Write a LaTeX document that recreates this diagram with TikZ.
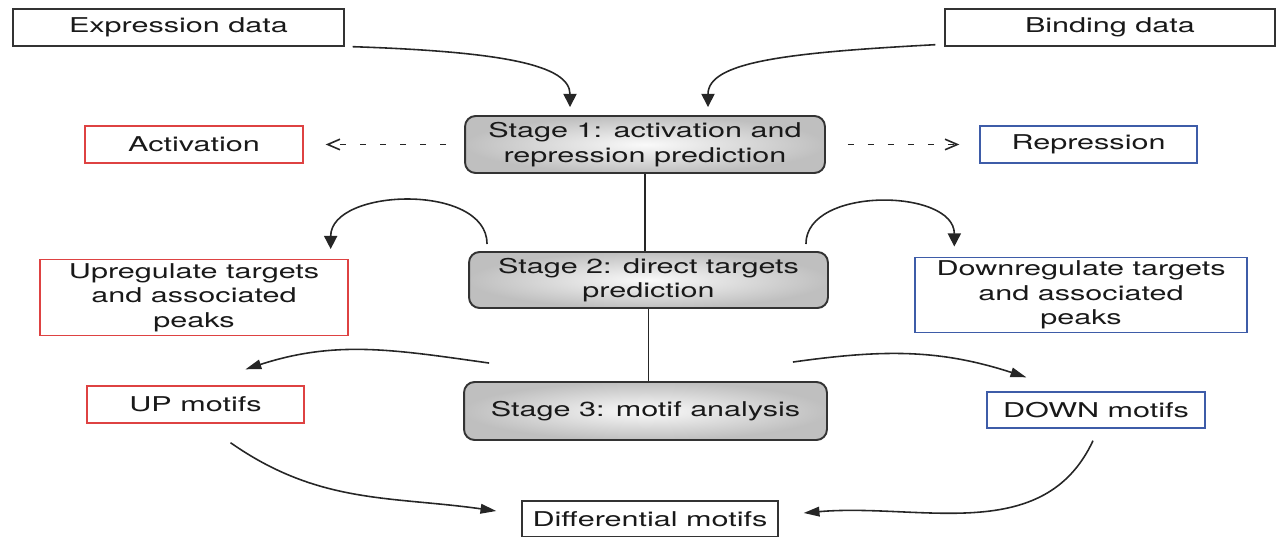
\documentclass[tikz,border=0pt]{standalone}
\usepackage{fontspec}
\newfontfamily\figfont[FakeStretch=1.5]{TeX Gyre Heros}
\usepackage{xcolor}
\usepackage{tikz}
\usetikzlibrary{arrows.meta, positioning, calc}
\definecolor{upred}{RGB}{222,66,66}
\definecolor{downblue}{RGB}{62,92,168}
\tikzset{
  %% Plain outlined box
  lbox/.style={
    rectangle, draw=#1, fill=white,
    text centered, align=center,
    inner sep=2pt, minimum height=0.74cm,
    line width=0.8pt
  },
  lbox/.default=black!80,
  %% Shaded stage box
  stagebox/.style={
    rectangle, rounded corners=6pt,
    draw=black!80, inner color=gray!4, outer color=gray!50,
    text centered, align=center,
    minimum width=7.2cm, minimum height=1.14cm,
    inner sep=2pt, line width=1.1pt
  },
  %% Arrows
  arr/.style={-{Triangle[length=7.5pt,width=7.5pt]},
              draw=black!85, line width=0.9pt},
  arrh/.style={-{Triangle[length=9pt,width=5.5pt]},
               draw=black!85, line width=0.9pt},
  darr/.style={-{Straight Barb[length=7pt,width=6pt]},
               dash pattern=on 3.6pt off 7.8pt,
               draw=black!85, line width=0.9pt},
  link/.style={draw=black!85, line width=0.9pt},
}

\begin{document}
\begin{tikzpicture}[x=0.02cm, y=0.02cm,
                    every node/.style={font=\figfont\fontsize{11.6pt}{14pt}\selectfont,
                                       text=black!90}]

  \useasboundingbox (0,0) rectangle (1278,537);

  \node[lbox, minimum width=6.62cm] (expr) at (178.5,509.5) {Expression data};
  \node[lbox, minimum width=6.6cm] (bind) at (1110,509.5) {Binding data};

  \node[stagebox] (st1) at (645,392.5)
       {Stage 1: activation and\\repression prediction};
  \node[lbox=upred, minimum width=4.36cm] (act) at (194,392.5) {Activation};
  \node[lbox=downblue, minimum width=4.34cm] (rep) at (1088.5,392.5) {Repression};

  \node[stagebox, minimum width=7.18cm, minimum height=1.12cm] (st2) at (648.5,257)
       {Stage 2: direct targets\\prediction};
  \node[lbox=upred, minimum width=6.16cm, minimum height=1.42cm] (up) at (194,239.5)
       {Upregulate targets\\and associated\\peaks};
  \node[lbox=downblue, minimum width=6.64cm, minimum height=1.4cm] (down) at (1081,242)
       {Downregulate targets\\and associated\\peaks};

  \node[stagebox, minimum width=7.26cm, minimum height=1.16cm] (st3) at (645.5,126)
       {Stage 3: motif analysis};
  \node[lbox=upred, minimum width=4.34cm] (upm) at (195.5,132.5) {UP motifs};
  \node[lbox=downblue, minimum width=4.36cm, minimum height=0.72cm] (downm) at (1096,127)
       {DOWN motifs};

  \node[lbox, minimum width=5.12cm, minimum height=0.72cm] (diff) at (650,18)
       {Differential motifs};

  %% Inputs
  \draw[arr] ([shift={(8,0)}]expr.south east)
             .. controls +(150,-5) and +(0,42) .. ([shift={(-75,8)}]st1.north);
  \draw[arr] ([shift={(-9,2)}]bind.south west)
             .. controls +(-150,-8) and +(0,45) .. ([shift={(63,8)}]st1.north);

  %% Stage 1
  \draw[darr, shorten <=0.36cm, shorten >=0.44cm] (st1.west) -- (act.east);
  \draw[darr, shorten <=0.44cm, shorten >=0.4cm] (st1.east) -- (rep.west);
  \draw[link] (st1.south) -- (st1.south |- st2.north);

  %% Stage 2
  \draw[arr] ([shift={(19,7)}]st2.north west) to[out=90,in=90]
             ([shift={(-18,10)}]up.north east);
  \draw[arr] ([shift={(-23,7)}]st2.north east) to[out=90,in=90]
             ([shift={(40,10)}]down.north west);
  \draw[link] (st2.south) -- (st2.south |- st3.north);

  %% Stage 3
  \draw[arrh] ([shift={(26,18)}]st3.north west) to[out=172,in=18]
              ([shift={(50,16)}]upm.north);
  \draw[arrh] ([shift={(-35,19)}]st3.north east) to[out=8,in=162]
              ([shift={(40,14)}]downm.north west);
  \draw[arrh] ([shift={(35,-19)}]upm.south) to[out=-35,in=172]
              ([shift={(-25,8)}]diff.west);
  \draw[arrh] ([shift={(-3,-12)}]downm.south) to[out=-115,in=5]
              ([shift={(25,6)}]diff.east);

\end{tikzpicture}
\end{document}
